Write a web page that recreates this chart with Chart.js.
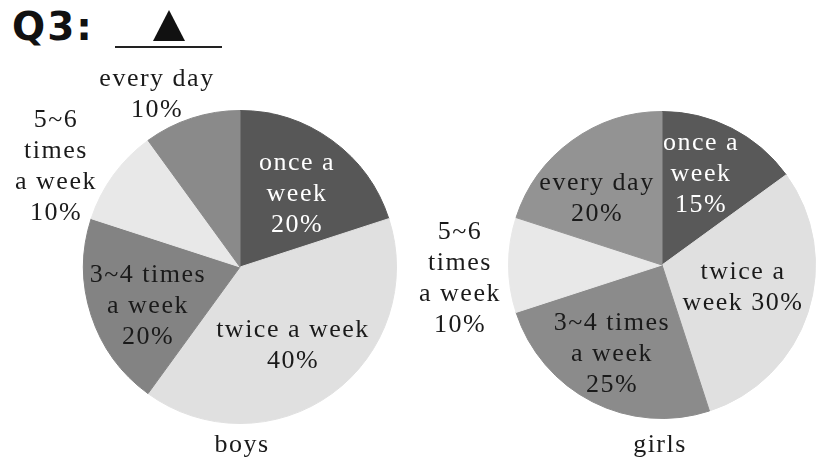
<!DOCTYPE html>
<html lang="en">
<head>
    <meta charset="UTF-8">
    <title>Q3 pie charts</title>
    <script src="https://cdn.jsdelivr.net/npm/chart.js"></script>
    <style>
        body {
            margin: 0;
            width: 830px;
            height: 470px;
            background: #fff;
            position: relative;
            overflow: hidden;
        }
        .title {
            position: absolute;
            left: 12px;
            top: 4px;
            font-family: "DejaVu Sans", sans-serif;
            font-weight: bold;
            font-size: 39px;
            letter-spacing: 2px;
            color: #111;
        }
        .blank {
            position: absolute;
            left: 115px;
            top: 46px;
            width: 107px;
            border-top: 2px solid #222;
        }
        .tri {
            position: absolute;
            left: 153px;
            top: 10px;
            width: 0;
            height: 0;
            border-left: 16px solid transparent;
            border-right: 16px solid transparent;
            border-bottom: 31px solid #111;
        }
        .box {
            position: absolute;
            top: 60px;
            width: 415px;
            height: 400px;
        }
    </style>
</head>
<body>
    <div class="title">Q3:</div>
    <div class="tri"></div>
    <div class="blank"></div>

    <div class="box" style="left:0"><canvas id="boysChart" width="415" height="400"></canvas></div>
    <div class="box" style="left:415px"><canvas id="girlsChart" width="415" height="400"></canvas></div>

    <script>
        // data
        const categories = ['once a week', 'twice a week', '3~4 times a week', '5~6 times a week', 'every day'];
        const boysValues = [20, 40, 20, 10, 10];
        const girlsValues = [15, 30, 25, 10, 20];

        const boysColors = ['#575757', '#e0e0e0', '#838383', '#e8e8e8', '#8a8a8a'];
        const girlsColors = ['#595959', '#e0e0e0', '#8b8b8b', '#e8e8e8', '#939393'];

        // label lines and where they sit (canvas px), one entry per slice
        const boysLabels = [
            { lines: ['once a', 'week', '20%'], x: 297, y: 103, color: '#fff' },
            { lines: ['twice a week', '40%'], x: 293, y: 270, color: '#1a1a1a' },
            { lines: ['3~4 times', 'a week', '20%'], x: 148, y: 215, color: '#1a1a1a' },
            { lines: ['5~6', 'times', 'a week', '10%'], x: 56, y: 60, color: '#1a1a1a' },
            { lines: ['every day', '10%'], x: 157, y: 19, color: '#1a1a1a' }
        ];
        const girlsLabels = [
            { lines: ['once a', 'week', '15%'], x: 286, y: 83, color: '#fff' },
            { lines: ['twice a', 'week 30%'], x: 328, y: 212, color: '#1a1a1a' },
            { lines: ['3~4 times', 'a week', '25%'], x: 197, y: 263, color: '#1a1a1a' },
            { lines: ['5~6', 'times', 'a week', '10%'], x: 45, y: 172, color: '#1a1a1a' },
            { lines: ['every day', '20%'], x: 182, y: 123, color: '#1a1a1a' }
        ];

        const labelFont = '26px "Liberation Serif", "Times New Roman", serif';

        const pieLabels = {
            id: 'pieLabels',
            afterDatasetsDraw(chart, args, opts) {
                const ctx = chart.ctx;
                ctx.save();
                ctx.font = labelFont;
                ctx.letterSpacing = '1.5px';
                ctx.textAlign = 'center';
                ctx.textBaseline = 'middle';
                opts.items.forEach(item => {
                    ctx.fillStyle = item.color;
                    item.lines.forEach((line, i) => {
                        ctx.fillText(line, item.x, item.y + i * 31);
                    });
                });
                ctx.fillStyle = '#1a1a1a';
                ctx.fillText(opts.caption, opts.capX, opts.capY);
                ctx.restore();
            }
        };

        function makePie(id, values, colors, labels, padding, caption, capX) {
            return new Chart(document.getElementById(id), {
                type: 'pie',
                data: {
                    labels: categories,
                    datasets: [{
                        data: values,
                        backgroundColor: colors,
                        borderColor: colors,
                        borderWidth: 1
                    }]
                },
                options: {
                    responsive: false,
                    animation: false,
                    layout: { padding: padding },
                    plugins: {
                        legend: { display: false },
                        tooltip: { enabled: false },
                        pieLabels: { items: labels, caption: caption, capX: capX, capY: 385 }
                    }
                },
                plugins: [pieLabels]
            });
        }

        document.fonts.load(labelFont).then(() => {
            makePie('boysChart', boysValues, boysColors, boysLabels,
                { left: 83, right: 18, top: 50, bottom: 36 }, 'boys', 242);
            makePie('girlsChart', girlsValues, girlsColors, girlsLabels,
                { left: 93, right: 14, top: 51, bottom: 41 }, 'girls', 245);
        });
    </script>
</body>
</html>
